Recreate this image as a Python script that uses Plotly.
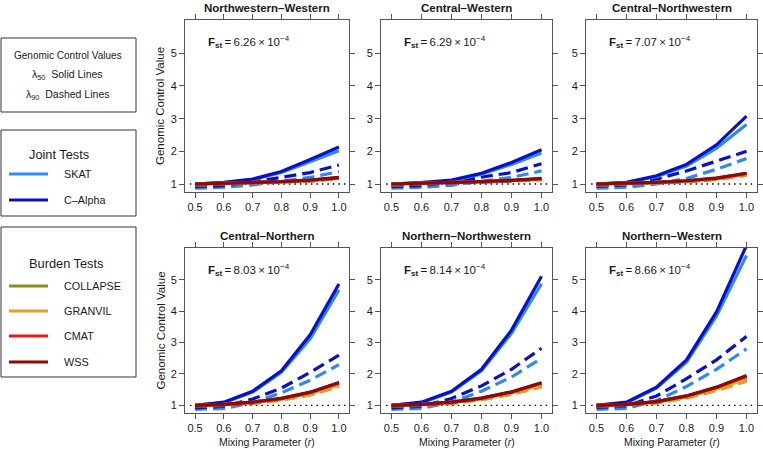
import plotly.graph_objects as go

W, H = 763, 449

# ---------------- data ----------------
R = [0.5, 0.6, 0.7, 0.8, 0.9, 1.0]
PANEL_TITLES = ["Northwestern–Western", "Central–Western", "Central–Northwestern",
                "Central–Northern", "Northern–Northwestern", "Northern–Western"]
FST = ["6.26", "6.29", "7.07", "8.03", "8.14", "8.66"]
Y_TICKS = [1, 2, 3, 4, 5]
X_TICKS = [0.5, 0.6, 0.7, 0.8, 0.9, 1.0]

SKAT_L50 = [
    [1.00, 1.04, 1.13, 1.35, 1.68, 2.02],
    [1.00, 1.04, 1.10, 1.30, 1.60, 1.95],
    [1.00, 1.05, 1.22, 1.55, 2.10, 2.82],
    [1.00, 1.08, 1.42, 2.05, 3.12, 4.68],
    [1.00, 1.08, 1.42, 2.10, 3.30, 4.88],
    [1.00, 1.08, 1.55, 2.38, 3.85, 5.78]]
CALPHA_L50 = [
    [1.00, 1.05, 1.15, 1.38, 1.75, 2.13],
    [1.00, 1.04, 1.12, 1.33, 1.66, 2.05],
    [1.00, 1.05, 1.25, 1.60, 2.20, 3.08],
    [1.00, 1.10, 1.45, 2.10, 3.25, 4.87],
    [1.00, 1.10, 1.45, 2.15, 3.40, 5.12],
    [1.00, 1.10, 1.58, 2.45, 3.98, 6.10]]
SKAT_L90 = [
    [0.87, 0.90, 0.97, 1.08, 1.20, 1.38],
    [0.87, 0.90, 0.96, 1.07, 1.20, 1.40],
    [0.87, 0.90, 1.00, 1.17, 1.45, 1.78],
    [0.87, 0.90, 1.08, 1.40, 1.80, 2.30],
    [0.87, 0.90, 1.10, 1.45, 1.90, 2.50],
    [0.87, 0.90, 1.15, 1.60, 2.15, 2.80]]
CALPHA_L90 = [
    [0.92, 0.95, 1.08, 1.20, 1.35, 1.58],
    [0.92, 0.95, 1.07, 1.20, 1.35, 1.62],
    [0.93, 0.97, 1.15, 1.40, 1.70, 2.00],
    [0.92, 0.97, 1.20, 1.55, 2.05, 2.60],
    [0.92, 0.97, 1.22, 1.62, 2.15, 2.82],
    [0.93, 0.98, 1.30, 1.85, 2.45, 3.20]]

COLLAPSE_L50 = [
    [1.00, 1.02, 1.04, 1.07, 1.11, 1.18],
    [1.00, 1.02, 1.04, 1.06, 1.10, 1.15],
    [1.00, 1.02, 1.05, 1.09, 1.16, 1.30],
    [1.00, 1.03, 1.09, 1.20, 1.38, 1.66],
    [1.00, 1.03, 1.09, 1.21, 1.40, 1.66],
    [1.00, 1.03, 1.11, 1.27, 1.53, 1.86]]
GRANVIL_L50 = [
    [1.00, 1.02, 1.04, 1.07, 1.11, 1.18],
    [1.00, 1.02, 1.04, 1.06, 1.10, 1.15],
    [1.00, 1.02, 1.05, 1.09, 1.16, 1.30],
    [1.00, 1.03, 1.09, 1.20, 1.38, 1.65],
    [1.00, 1.03, 1.09, 1.21, 1.40, 1.65],
    [1.00, 1.03, 1.11, 1.27, 1.53, 1.85]]
CMAT_L50 = [
    [1.00, 1.02, 1.04, 1.07, 1.12, 1.19],
    [1.00, 1.02, 1.04, 1.07, 1.11, 1.16],
    [1.00, 1.02, 1.05, 1.10, 1.18, 1.32],
    [1.00, 1.03, 1.10, 1.22, 1.41, 1.71],
    [1.00, 1.03, 1.10, 1.23, 1.42, 1.71],
    [1.00, 1.03, 1.12, 1.30, 1.57, 1.93]]
WSS_L50 = [
    [1.00, 1.02, 1.04, 1.07, 1.12, 1.20],
    [1.00, 1.02, 1.04, 1.07, 1.11, 1.17],
    [1.00, 1.02, 1.05, 1.10, 1.18, 1.33],
    [1.00, 1.03, 1.10, 1.22, 1.42, 1.73],
    [1.00, 1.03, 1.10, 1.23, 1.43, 1.72],
    [1.00, 1.03, 1.12, 1.30, 1.58, 1.95]]

COLLAPSE_L90 = [
    [0.97, 1.00, 1.02, 1.05, 1.09, 1.16],
    [0.97, 1.00, 1.02, 1.05, 1.08, 1.13],
    [0.97, 1.00, 1.03, 1.07, 1.14, 1.27],
    [0.97, 1.00, 1.06, 1.17, 1.34, 1.61],
    [0.97, 1.00, 1.06, 1.18, 1.36, 1.60],
    [0.97, 1.00, 1.08, 1.24, 1.48, 1.78]]
GRANVIL_L90 = [
    [0.97, 1.00, 1.02, 1.05, 1.09, 1.16],
    [0.97, 1.00, 1.02, 1.05, 1.08, 1.13],
    [0.97, 1.00, 1.03, 1.07, 1.14, 1.27],
    [0.97, 1.00, 1.06, 1.17, 1.33, 1.60],
    [0.97, 1.00, 1.06, 1.18, 1.35, 1.59],
    [0.97, 1.00, 1.08, 1.23, 1.47, 1.77]]
CMAT_L90 = [
    [0.98, 1.01, 1.03, 1.06, 1.10, 1.18],
    [0.98, 1.01, 1.03, 1.06, 1.09, 1.15],
    [0.98, 1.01, 1.04, 1.08, 1.16, 1.30],
    [0.98, 1.01, 1.08, 1.20, 1.39, 1.68],
    [0.98, 1.01, 1.08, 1.21, 1.40, 1.68],
    [0.98, 1.01, 1.10, 1.28, 1.55, 1.90]]
WSS_L90 = [
    [0.98, 1.01, 1.03, 1.06, 1.11, 1.19],
    [0.98, 1.01, 1.03, 1.06, 1.10, 1.16],
    [0.98, 1.01, 1.04, 1.09, 1.17, 1.32],
    [0.98, 1.01, 1.09, 1.21, 1.41, 1.71],
    [0.98, 1.01, 1.09, 1.22, 1.42, 1.70],
    [0.98, 1.01, 1.11, 1.29, 1.56, 1.92]]

TESTS = ["SKAT", "C–Alpha", "COLLAPSE", "GRANVIL", "CMAT", "WSS"]
COLORS = {"SKAT": "#2E8BE8", "C–Alpha": "#0A10C8", "COLLAPSE": "#8B8B1A",
          "GRANVIL": "#E8A020", "CMAT": "#E41A1A", "WSS": "#8B0A0A"}
L50 = {"SKAT": SKAT_L50, "C–Alpha": CALPHA_L50, "COLLAPSE": COLLAPSE_L50,
       "GRANVIL": GRANVIL_L50, "CMAT": CMAT_L50, "WSS": WSS_L50}
L90 = {"SKAT": SKAT_L90, "C–Alpha": CALPHA_L90, "COLLAPSE": COLLAPSE_L90,
       "GRANVIL": GRANVIL_L90, "CMAT": CMAT_L90, "WSS": WSS_L90}

# ---------------- layout geometry (pixels) ----------------
COL_X = [(185, 349), (381, 552), (586, 757)]
ROW_Y = [(20, 192), (248, 413)]

def px(x):
    return x / W

def py(y):
    return 1 - y / H

FONT = "Liberation Sans, Arial, Helvetica, sans-serif"
AXC = "#555555"
TXT = "#1a1a1a"
TICK_SIZE = 11

fig = go.Figure()
layout = dict(width=W, height=H, margin=dict(l=0, r=0, t=0, b=0),
              paper_bgcolor="white", plot_bgcolor="white", showlegend=False,
              font=dict(family=FONT, size=11, color=TXT))
annotations = []
shapes = []

for i in range(6):
    row, col = divmod(i, 3)
    n = "" if i == 0 else str(i + 1)
    xa, ya = "x" + n, "y" + n
    x0, x1 = COL_X[col]
    y0, y1 = ROW_Y[row]
    layout["xaxis" + n] = dict(
        domain=[px(x0), px(x1)], range=[0.465, 1.035], anchor=ya,
        tickvals=X_TICKS, ticktext=[f"{v:.1f}" for v in X_TICKS],
        showline=True, mirror="ticks", linecolor=AXC, linewidth=1,
        ticks="outside", ticklen=5, tickcolor=AXC, showgrid=False, zeroline=False,
        tickfont=dict(size=TICK_SIZE, color=TXT), automargin=False, fixedrange=True)
    layout["yaxis" + n] = dict(
        domain=[py(y1), py(y0)], range=[0.755, 6.02], anchor=xa,
        tickvals=Y_TICKS, ticktext=[str(v) for v in Y_TICKS],
        showline=True, mirror="ticks", linecolor=AXC, linewidth=1,
        ticks="outside", ticklen=5, tickcolor=AXC, showgrid=False, zeroline=False,
        tickfont=dict(size=TICK_SIZE, color=TXT), automargin=False, fixedrange=True)

    # reference line at 1
    shapes.append(dict(type="line", xref=xa + " domain", yref=ya, x0=0.03, x1=0.995,
                       y0=1, y1=1, line=dict(color="black", width=1.3, dash="1.5px,4px"),
                       layer="below"))

    for t in TESTS:
        fig.add_trace(go.Scatter(x=R, y=L90[t][i], mode="lines", xaxis=xa, yaxis=ya,
                                 line=dict(color=COLORS[t], width=3.2, dash="12px,6px"),
                                 hoverinfo="skip"))
    for t in TESTS:
        fig.add_trace(go.Scatter(x=R, y=L50[t][i], mode="lines", xaxis=xa, yaxis=ya,
                                 line=dict(color=COLORS[t], width=3.2),
                                 hoverinfo="skip"))

    # panel title
    annotations.append(dict(text="<b>" + PANEL_TITLES[i] + "</b>", xref="paper", yref="paper",
                            x=px((x0 + x1) / 2), y=py(y0 - 12), xanchor="center", yanchor="middle",
                            showarrow=False, font=dict(size=11.5, color=TXT)))
    # Fst label
    annotations.append(dict(text="<b>F</b><sub><b>st</b></sub>\u2009=\u2009" + FST[i]
                                 + "\u2009×\u200910<sup>−4</sup>",
                            xref="paper", yref="paper", x=px(x0 + 21), y=py(y0 + 22),
                            xanchor="left", yanchor="middle", showarrow=False,
                            font=dict(size=11.5, color=TXT)))

# axis titles
for (y0, y1) in ROW_Y:
    annotations.append(dict(text="Genomic Control Value", xref="paper", yref="paper",
                            x=px(160), y=py((y0 + y1) / 2), textangle=-90,
                            xanchor="center", yanchor="middle", showarrow=False,
                            font=dict(size=11.5, color=TXT)))
for (x0, x1) in COL_X:
    annotations.append(dict(text="Mixing Parameter (<i>r</i>)", xref="paper", yref="paper",
                            x=px((x0 + x1) / 2), y=py(442), xanchor="center", yanchor="middle",
                            showarrow=False, font=dict(size=10.5, color=TXT)))

# ---------------- legend boxes ----------------
def box(yt, yb):
    shapes.append(dict(type="rect", xref="paper", yref="paper", x0=px(1), x1=px(136),
                       y0=py(yb), y1=py(yt), line=dict(color="#333333", width=1),
                       fillcolor="rgba(0,0,0,0)"))

def label(text, x, y, size=12, anchor="center"):
    annotations.append(dict(text=text, xref="paper", yref="paper", x=px(x), y=py(y),
                            xanchor=anchor, yanchor="middle", showarrow=False,
                            font=dict(size=size, color=TXT)))

box(38, 112)
label("Genomic Control Values", 68, 55, 10)
label("λ<sub>50</sub>  Solid Lines", 67, 75, 10.5)
label("λ<sub>90</sub>  Dashed Lines", 67, 95, 10.5)

box(130, 216)
label("Joint Tests", 27, 154, 12.8, "left")
box(227, 377)
label("Burden Tests", 27, 263, 12.8, "left")

legend_rows = [("SKAT", 174), ("C–Alpha", 200), ("COLLAPSE", 286), ("GRANVIL", 311),
               ("CMAT", 336), ("WSS", 362)]
for t, yy in legend_rows:
    shapes.append(dict(type="line", xref="paper", yref="paper", x0=px(9), x1=px(48),
                       y0=py(yy), y1=py(yy), line=dict(color=COLORS[t], width=3)))
    label(t, 62, yy, 10.8, "left")

layout["annotations"] = annotations
layout["shapes"] = shapes
fig.update_layout(**layout)
fig.write_html("out.html", config={"displayModeBar": False},
               post_script="document.body.style.margin='0';document.body.style.overflow='hidden';")
